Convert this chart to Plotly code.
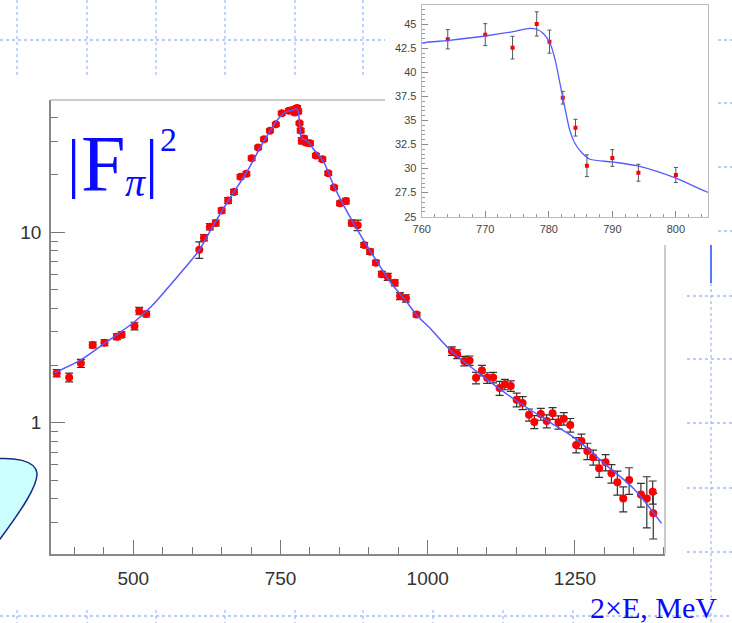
import plotly.graph_objects as go

W, H = 732, 623


def px(x):
    return x / W


def py(y):
    return 1 - y / H


# ---------------- data ----------------
energy = [370, 391, 411, 431, 451, 472, 480, 502, 510, 522,
          612, 620, 630, 640, 650, 661, 671, 682, 692, 701,
          712, 722, 732, 742, 752,
          764.1, 770.0, 774.3, 778.1, 780.1, 782.2, 784.2, 786.0, 790.0, 794.1, 800.0,
          810, 821, 831, 841, 851, 861, 871, 881, 892, 902,
          912, 922, 932, 944, 953, 963, 981,
          1041, 1050, 1062, 1071, 1082, 1092, 1101, 1111, 1122, 1131,
          1141, 1151, 1161, 1172, 1181, 1192, 1202, 1212, 1222, 1231,
          1242, 1252, 1261, 1271, 1281, 1291, 1302, 1312, 1322, 1332,
          1342, 1362, 1372, 1382, 1383]
ff2 = [1.82, 1.73, 2.05, 2.56, 2.63, 2.83, 2.90, 3.22, 3.86, 3.72,
       8.1, 9.37, 10.7, 11.2, 13.0, 14.7, 16.3, 19.6, 20.3, 24.5,
       27.9, 30.8, 34.2, 36.9, 42.2,
       43.44, 43.92, 42.57, 45.03, 43.19, 37.37, 34.25, 30.30, 31.10, 29.57, 29.33,
       25.3, 24.2, 20.4, 17.2, 14.2, 14.6, 11.2, 10.9, 8.58, 7.91,
       6.92, 6.03, 5.84, 5.43, 4.63, 4.50, 3.70,
       2.38, 2.29, 2.11, 2.12, 1.72, 1.88, 1.72, 1.73, 1.52, 1.59,
       1.56, 1.32, 1.27, 1.10, 1.01, 1.11, 1.02, 1.12, 1.005, 1.05,
       0.972, 0.764, 0.801, 0.71, 0.658, 0.576, 0.619, 0.542, 0.487, 0.400,
       0.50, 0.420, 0.400, 0.434, 0.335]
ff2_err = [0.08, 0.09, 0.10, 0.09, 0.09, 0.10, 0.10, 0.15, 0.17, 0.13,
           0.8, 0.35, 0.4, 0.4, 0.4, 0.5, 0.5, 0.5, 0.5, 0.6,
           0.6, 0.7, 0.7, 0.8, 0.9,
           1.0, 1.14, 1.18, 1.26, 1.2, 0.66, 0.87, 1.13, 0.87, 0.88, 0.78,
           0.6, 0.6, 0.5, 0.4, 0.4, 0.5, 0.4, 0.7, 0.25, 0.25,
           0.2, 0.2, 0.25, 0.2, 0.2, 0.2, 0.1,
           0.12, 0.12, 0.12, 0.12, 0.12, 0.12, 0.11, 0.11, 0.13, 0.10,
           0.10, 0.11, 0.10, 0.08, 0.08, 0.08, 0.08, 0.08, 0.08, 0.08,
           0.08, 0.07, 0.07, 0.07, 0.06, 0.06, 0.06, 0.06, 0.07, 0.06,
           0.08, 0.06, 0.12, 0.06, 0.09]

curve_e = [366, 411, 451, 502, 530, 558, 587, 612, 636, 664, 693, 721, 749,
           760, 764, 770, 774.4, 777, 778.1, 779.1, 780.2, 781, 781.75, 782.5,
           783.3, 784.1, 785.2, 786.5, 790, 794, 800, 805,
           823, 840, 857, 879, 907, 936, 964, 981, 1004, 1040, 1095, 1145,
           1202, 1250, 1300, 1350, 1397]
curve_v = [1.83, 2.14, 2.61, 3.39, 4.06, 5.08, 6.47, 8.07, 10.9, 15.1, 20.8, 29.9, 40.4,
           43.03, 43.3, 43.78, 44.23, 44.58, 44.48, 44.06, 43.03, 41.29, 38.87, 36.43,
           34.0, 32.63, 31.65, 30.97, 30.69, 30.27, 29.0, 27.54,
           23.5, 17.7, 13.9, 10.5, 7.57, 5.50, 4.32, 3.68, 3.13, 2.38, 1.74, 1.34,
           1.03, 0.83, 0.61, 0.45, 0.296]

x_major = [500, 750, 1000, 1250]
x_minor = [400, 450, 550, 600, 650, 700, 800, 850, 900, 950,
           1050, 1100, 1150, 1200, 1300, 1350, 1400]
y_major = [1, 10]
y_major_text = ["1", "10"]
y_minor = [0.3, 0.4, 0.5, 0.6, 0.7, 0.8, 0.9, 2, 3, 4, 5, 6, 7, 8, 9, 20, 30, 40]

inset_x_ticks = [760, 770, 780, 790, 800]
inset_y_ticks = [25, 27.5, 30, 32.5, 35, 37.5, 40, 42.5, 45]
inset_y_text = ["25", "27.5", "30", "32.5", "35", "37.5", "40", "42.5", "45"]

# ---------------- figure ----------------
fig = go.Figure()

RED = "#ff0000"
BLUE_LINE = "#5858ff"

fig.add_trace(go.Scatter(
    x=energy, y=ff2, mode="markers",
    marker=dict(color=RED, size=8, symbol="circle"),
    error_y=dict(type="data", array=ff2_err, color="#333333", thickness=1.2, width=4),
    xaxis="x", yaxis="y", showlegend=False, hoverinfo="skip"))
fig.add_trace(go.Scatter(
    x=curve_e, y=curve_v, mode="lines",
    line=dict(color=BLUE_LINE, width=1.5, shape="spline", smoothing=0.8),
    xaxis="x", yaxis="y", showlegend=False, hoverinfo="skip"))

fig.add_trace(go.Scatter(
    x=energy, y=ff2, mode="markers",
    marker=dict(color=RED, size=4, symbol="square"),
    error_y=dict(type="data", array=ff2_err, color="#555555", thickness=1, width=2),
    xaxis="x2", yaxis="y2", showlegend=False, hoverinfo="skip"))
fig.add_trace(go.Scatter(
    x=curve_e, y=curve_v, mode="lines",
    line=dict(color=BLUE_LINE, width=1.3, shape="spline", smoothing=0.8),
    xaxis="x2", yaxis="y2", showlegend=False, hoverinfo="skip"))

main_font = dict(family="Liberation Sans, Arial, sans-serif", size=19, color="#333333")
inset_font = dict(family="Liberation Sans, Arial, sans-serif", size=11, color="#444444")

fig.update_layout(
    width=W, height=H,
    margin=dict(l=0, r=0, t=0, b=0, autoexpand=False),
    paper_bgcolor="white", plot_bgcolor="white",
    showlegend=False,
    xaxis=dict(
        domain=[px(51), px(665)], range=[360.2, 1402.9], anchor="y", automargin=False,
        tickmode="array", tickvals=x_major, ticks="inside", ticklen=14,
        tickwidth=1.3, tickcolor="#777777",
        minor=dict(tickmode="array", tickvals=x_minor, ticks="inside", ticklen=7,
                   tickwidth=1.2, tickcolor="#777777", showgrid=False),
        showline=True, linecolor="#888888", linewidth=1.5, mirror=False,
        showgrid=False, zeroline=False, tickfont=main_font, ticklabelstandoff=6),
    yaxis=dict(
        domain=[py(554), py(100)], type="log", range=[-0.6896, 1.6949], anchor="x",
        automargin=False,
        tickmode="array", tickvals=y_major, ticktext=y_major_text,
        ticks="inside", ticklen=14, tickwidth=1.3, tickcolor="#777777",
        minor=dict(tickmode="array", tickvals=y_minor, ticks="inside", ticklen=7,
                   tickwidth=1.2, tickcolor="#777777", showgrid=False),
        showline=True, linecolor="#888888", linewidth=1.5, mirror=False,
        showgrid=False, zeroline=False, tickfont=main_font, ticklabelstandoff=4),
    xaxis2=dict(
        domain=[px(421.7), px(708.3)], range=[760, 805.1], anchor="y2", automargin=False,
        tickmode="array", tickvals=inset_x_ticks, ticks="inside", ticklen=6,
        tickwidth=1, tickcolor="#888888",
        minor=dict(dtick=2, tick0=760, ticks="inside", ticklen=3, tickwidth=1,
                   tickcolor="#999999", showgrid=False),
        showline=True, linecolor="#bbbbbb", linewidth=1.2, mirror=True,
        showgrid=False, zeroline=False, tickfont=inset_font, ticklabelstandoff=2),
    yaxis2=dict(
        domain=[py(216.7), py(5)], range=[25, 47.0], anchor="x2", automargin=False,
        tickmode="array", tickvals=inset_y_ticks, ticktext=inset_y_text,
        ticks="inside", ticklen=6, tickwidth=1, tickcolor="#888888",
        minor=dict(dtick=0.5, tick0=25, ticks="inside", ticklen=3, tickwidth=1,
                   tickcolor="#999999", showgrid=False),
        showline=True, linecolor="#bbbbbb", linewidth=1.2, mirror=True,
        showgrid=False, zeroline=False, tickfont=inset_font, ticklabelstandoff=2),
)

# ---------------- slide decorations ----------------
DOT = dict(color="#a8bcf4", width=1.3, dash="dot")
shapes = []
# top-left dotted grid
shapes.append(dict(type="line", xref="paper", yref="paper",
                   x0=px(0), x1=px(385), y0=py(40), y1=py(40), line=DOT))
for xv in [17, 87, 156, 225, 295, 363]:
    shapes.append(dict(type="line", xref="paper", yref="paper",
                       x0=px(xv), x1=px(xv), y0=py(0), y1=py(78), line=DOT))
# bottom dotted line with small marks
shapes.append(dict(type="line", xref="paper", yref="paper",
                   x0=px(0), x1=px(732), y0=py(616), y1=py(616), line=DOT))
for xv in [17, 87, 156, 225, 295, 363, 433, 503, 573]:
    shapes.append(dict(type="line", xref="paper", yref="paper",
                       x0=px(xv), x1=px(xv), y0=py(610), y1=py(623), line=DOT))
# right side dotted lines
shapes.append(dict(type="line", xref="paper", yref="paper",
                   x0=px(711), x1=px(711), y0=py(283), y1=py(623), line=DOT))
for yv in [296, 359, 423, 488, 552]:
    shapes.append(dict(type="line", xref="paper", yref="paper",
                       x0=px(687), x1=px(732), y0=py(yv), y1=py(yv), line=DOT))
for yv in [40, 103, 167, 231]:
    shapes.append(dict(type="line", xref="paper", yref="paper",
                       x0=px(718), x1=px(732), y0=py(yv), y1=py(yv), line=DOT))
# short solid blue bar
shapes.append(dict(type="line", xref="paper", yref="paper",
                   x0=px(711), x1=px(711), y0=py(245), y1=py(283),
                   line=dict(color="#5577ff", width=2)))
# main frame (top and right edges, partly hidden by the inset pad)
shapes.append(dict(type="line", xref="paper", yref="paper",
                   x0=px(51), x1=px(385), y0=py(100), y1=py(100),
                   line=dict(color="#bbbbbb", width=1.5)))
shapes.append(dict(type="line", xref="paper", yref="paper",
                   x0=px(665), x1=px(665), y0=py(245), y1=py(554),
                   line=dict(color="#bbbbbb", width=1.5)))


# cyan blob at the left edge
def P(x, y):
    return f"{px(x):.5f},{py(y):.5f}"


blob = (f"M {P(-8, 459)} C {P(14, 457)} {P(35, 460)} {P(37, 473)} "
        f"C {P(38, 486)} {P(20, 512)} {P(0, 539)} L {P(-8, 548)} Z")
shapes.append(dict(type="path", xref="paper", yref="paper", path=blob,
                   fillcolor="#ccffff", line=dict(color="#1a2a80", width=1.5)))
fig.update_layout(shapes=shapes)

# ---------------- text ----------------
SERIF = "Liberation Serif, Times New Roman, serif"
TBLUE = "#0a0aff"
ann = []
ann.append(dict(text="|", x=px(73), y=py(163), xanchor="center", yanchor="middle",
                font=dict(family=SERIF, size=66, color=TBLUE)))
ann.append(dict(text="F", x=px(79.5), y=py(164), xanchor="left", yanchor="middle",
                font=dict(family=SERIF, size=80, color=TBLUE)))
ann.append(dict(text="<i>π</i>", x=px(124), y=py(182), xanchor="left", yanchor="middle",
                font=dict(family=SERIF, size=40, color=TBLUE)))
ann.append(dict(text="|", x=px(151.5), y=py(163), xanchor="center", yanchor="middle",
                font=dict(family=SERIF, size=66, color=TBLUE)))
ann.append(dict(text="2", x=px(158.5), y=py(139), xanchor="left", yanchor="middle",
                font=dict(family=SERIF, size=34, color=TBLUE)))
ann.append(dict(text="2×E, MeV", x=px(718), y=py(607), xanchor="right", yanchor="middle",
                font=dict(family=SERIF, size=30, color=TBLUE)))
for a in ann:
    a.update(xref="paper", yref="paper", showarrow=False, borderpad=0)
fig.update_layout(annotations=ann)

fig.write_html("out.html")
